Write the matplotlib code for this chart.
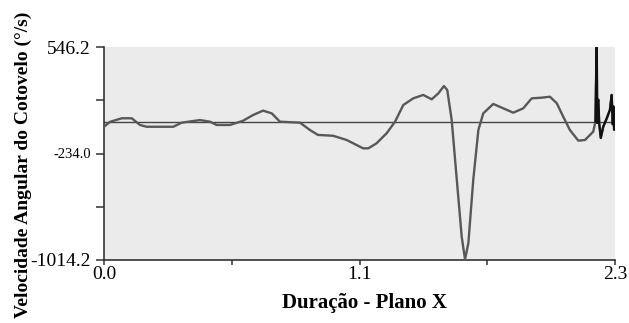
import matplotlib
matplotlib.use("Agg")
import matplotlib.pyplot as plt

# Data (time in s, angular velocity in deg/s)
time_s = [0.000, 0.027, 0.080, 0.125, 0.162, 0.192, 0.312, 0.350, 0.432, 0.477,
          0.507, 0.567, 0.626, 0.671, 0.716, 0.755, 0.792, 0.882, 0.927, 0.963,
          1.031, 1.092, 1.137, 1.166, 1.190, 1.227, 1.272, 1.310, 1.347, 1.392,
          1.437, 1.475, 1.505, 1.530, 1.545, 1.565, 1.588, 1.610, 1.625, 1.640,
          1.662, 1.685, 1.707, 1.752, 1.797, 1.842, 1.887, 1.925, 1.970, 2.007,
          2.038, 2.067, 2.097, 2.135, 2.165, 2.202, 2.212, 2.217, 2.218, 2.220,
          2.223, 2.225, 2.229, 2.236, 2.247, 2.263, 2.277, 2.285, 2.290, 2.293,
          2.296, 2.300]
velocity = [-38, -2, 24, 24, -25, -38, -38, -8, 11, -1,
            -25, -25, 6, 48, 80, 60, -1, -8, -62, -98,
            -104, -135, -172, -196, -196, -159, -86, -1, 121, 170,
            195, 163, 207, 260, 231, 11, -428, -844, -1010, -890,
            -428, -62, 60, 129, 97, 65, 97, 170, 175, 182,
            134, 36, -62, -140, -135, -74, 0, 540, 546, -10,
            150, 160, -15, -120, -38, 24, 85, 195, -20, 110,
            -60, 85]

y_min, y_max = -1014.2, 546.2
x_min, x_max = 0.0, 2.3
y_ticks = [546.2, 156.1, -234.0, -624.1, -1014.2]
y_ticklabels = ["546.2", "", "-234.0", "", "-1014.2"]
x_ticks = [0.0, 0.575, 1.15, 1.725, 2.3]
x_ticklabels = ["0.0", "", "1.1", "", "2.3"]
tail_start = 2.212

plt.rcParams['font.family'] = ['Liberation Serif', 'DejaVu Serif']

fig = plt.figure(figsize=(6.29, 3.23), dpi=100)
ax = fig.add_axes([104/629, 1-260/323, (615-104)/629, (260-47)/323])
ax.set_facecolor('#ebebeb')

ax.axhline(0, color='#444444', lw=1.0, zorder=2)
ax.plot(time_s, velocity, color='#585858', lw=1.7, zorder=3, solid_joinstyle='round')
tail_x = [t for t in time_s if t >= tail_start]
tail_y = [v for t, v in zip(time_s, velocity) if t >= tail_start]
ax.plot(tail_x, tail_y, color='#111111', lw=1.6, zorder=4)

ax.set_xlim(x_min, x_max)
ax.set_ylim(y_min, y_max)
ax.set_yticks(y_ticks)
ax.set_yticklabels(y_ticklabels)
ax.set_xticks(x_ticks)
ax.set_xticklabels(x_ticklabels, fontsize=14)
for lbl in ax.get_yticklabels():
    lbl.set_fontsize(14)
ax.get_yticklabels()[2].set_fontsize(10.5)

ax.tick_params(axis='y', direction='out', length=5.5, width=1.1, color='#333333',
               pad=4, labelcolor='black')
ax.tick_params(axis='x', direction='out', length=3.5, width=1.1, color='#333333',
               pad=0.5, labelcolor='black')
for s in ['top', 'right']:
    ax.spines[s].set_visible(False)
for s in ['left', 'bottom']:
    ax.spines[s].set_color('#333333')
    ax.spines[s].set_linewidth(1.2)

fig.text(23/629, 1-165/323, 'Velocidade Angular do Cotovelo (°/s)', rotation=90,
         ha='center', va='center', fontsize=14, fontweight='bold')
fig.text(365/629, 1-303/323, 'Duração - Plano X', ha='center', va='center',
         fontsize=15, fontweight='bold')

fig.savefig('out.png', dpi=100)
